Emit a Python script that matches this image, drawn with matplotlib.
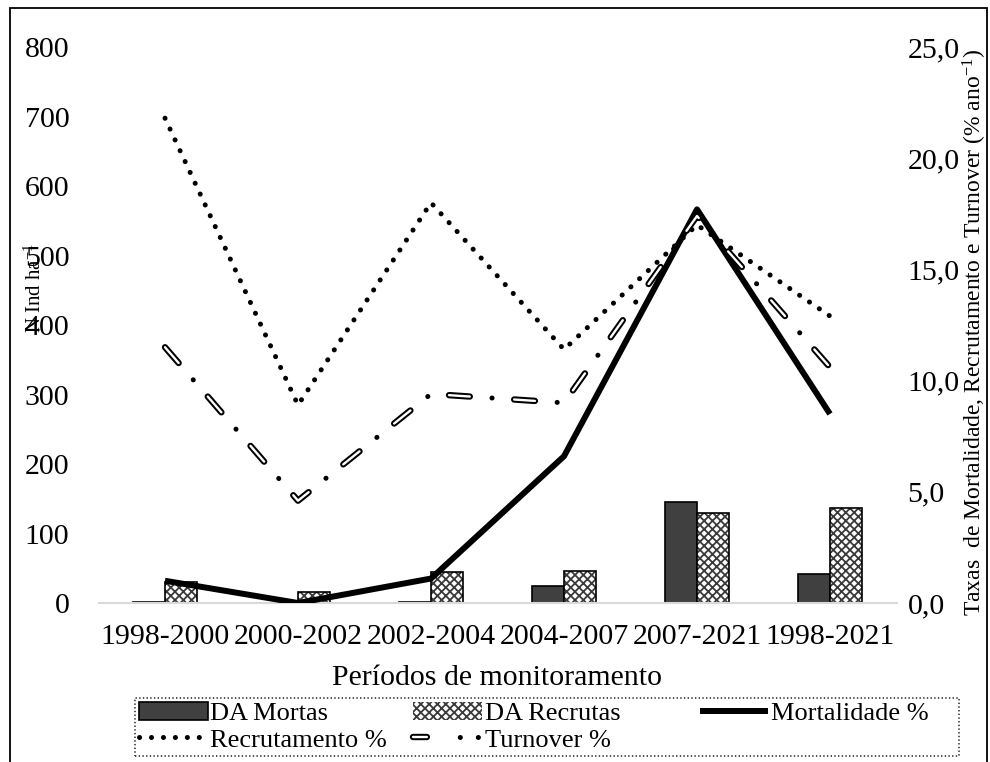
import numpy as np
import matplotlib
matplotlib.use('Agg')
import matplotlib.pyplot as plt
import matplotlib.patheffects as pe
from matplotlib.legend_handler import HandlerTuple
from matplotlib.lines import Line2D
from matplotlib.patches import Rectangle

plt.rcParams['font.family'] = ['Liberation Serif', 'DejaVu Serif']
plt.rcParams['mathtext.fontset'] = 'custom'
plt.rcParams['mathtext.rm'] = 'Liberation Serif'
plt.rcParams['mathtext.default'] = 'regular'
plt.rcParams['lines.scale_dashes'] = False
plt.rcParams['hatch.linewidth'] = 1.3

# dados
periodos = ['1998-2000', '2000-2002', '2002-2004', '2004-2007', '2007-2021', '1998-2021']
da_mortas = [1, 0, 1, 24, 145, 42]
da_recrutas = [30, 16, 44, 46, 130, 137]
mortalidade = [1.0, 0.0, 1.1, 6.6, 17.7, 8.5]
recrutamento = [21.8, 8.9, 18.0, 11.4, 17.0, 12.9]
turnover = [11.5, 4.6, 9.4, 9.0, 17.4, 10.6]

fs = 21.5
fig = plt.figure(figsize=(9.9, 7.62), dpi=100)
ax = fig.add_axes([98.5/990, 1 - 603/762, 798/990, 556/762])
ax2 = ax.twinx()

x = np.arange(len(periodos))
w = 0.24
b1 = ax.bar(x - w/2, da_mortas, w, color='#404040', edgecolor='black', lw=1.2)
b2 = ax.bar(x + w/2, da_recrutas, w, color='white', edgecolor='#3a3a3a', hatch='xxxx', lw=0)
ax.bar(x + w/2, da_recrutas, w, color='none', edgecolor='black', lw=1.2)

ax.set_xlim(-0.5, 5.5)
ax.set_ylim(0, 800)
ax.set_yticks(np.arange(0, 801, 100))
ax.set_xticks(x)
ax.set_xticklabels(periodos)
ax.tick_params(axis='both', length=0, labelsize=fs)
ax.tick_params(axis='y', pad=21)
ax.tick_params(axis='x', pad=15)
for s in ['top', 'left', 'right']:
    ax.spines[s].set_visible(False)
ax.spines['bottom'].set_color('#d9d9d9')
ax.spines['bottom'].set_linewidth(1.5)

ax2.set_ylim(0, 25)
ax2.set_yticks(np.arange(0, 26, 5))
ax2.set_yticklabels([('%.1f' % v).replace('.', ',') for v in np.arange(0, 26, 5)])
ax2.tick_params(axis='y', length=0, labelsize=fs, pad=8)
for s in ax2.spines.values():
    s.set_visible(False)

l_mort, = ax2.plot(x, mortalidade, color='black', lw=4.3, solid_capstyle='butt')
l_rec, = ax2.plot(x, recrutamento, color='black', lw=3.6, linestyle=(0, (0.1, 8.5)),
                  dash_capstyle='round')
dupla = [pe.Stroke(linewidth=4.6, foreground='black'), pe.Normal()]
ax2.plot(x, turnover, color='white', lw=1.7, linestyle=(0, (15, 32)),
         dash_capstyle='round', path_effects=dupla)
ax2.plot(x, turnover, color='black', lw=3.6, linestyle=(16, (0.1, 46.9)),
         dash_capstyle='round')

# legenda do turnover: traço curto + pontos
leg_turn_a = Line2D([], [], color='white', lw=1.7, linestyle=(0, (10, 60)),
                    dash_capstyle='round', path_effects=dupla)
leg_turn_b = Line2D([], [], color='black', lw=3.6, linestyle=(-20, (0.1, 12.9)),
                    dash_capstyle='round')

ax.set_xlabel('Períodos de monitoramento', fontsize=fs, labelpad=11)
fig.text(35/990, 1 - 288/762, 'N Ind ha$^{-1}$', rotation=90, fontsize=15,
         ha='center', va='center')
fig.text(975/990, 1 - 332/762,
         'Taxas  de Mortalidade, Recrutamento e Turnover (% ano$^{-1}$)',
         rotation=90, fontsize=17, ha='center', va='center')

handles = [b1, l_rec, b2, (leg_turn_a, leg_turn_b), l_mort]
labels = ['DA Mortas', 'Recrutamento %', 'DA Recrutas' + ' ' * 8, 'Turnover %',
          'Mortalidade %' + ' ' * 4]
leg = fig.legend(handles, labels, loc='upper left', bbox_to_anchor=(135/990, 1 - 698/762),
                 ncol=3, fontsize=19, frameon=True, fancybox=False, handlelength=2.6,
                 handletextpad=0.1, columnspacing=1.0, borderpad=0.15, labelspacing=0.1,
                 borderaxespad=0, handler_map={tuple: HandlerTuple(ndivide=None)})
leg.get_frame().set_edgecolor('black')
leg.get_frame().set_linestyle(':')
leg.get_frame().set_linewidth(1.2)

fig.add_artist(Rectangle((10/990, -0.1), 977/990, 1.1 - 8/762, transform=fig.transFigure,
                         fill=False, ec='black', lw=1.3))

fig.savefig('out.png', dpi=100)
